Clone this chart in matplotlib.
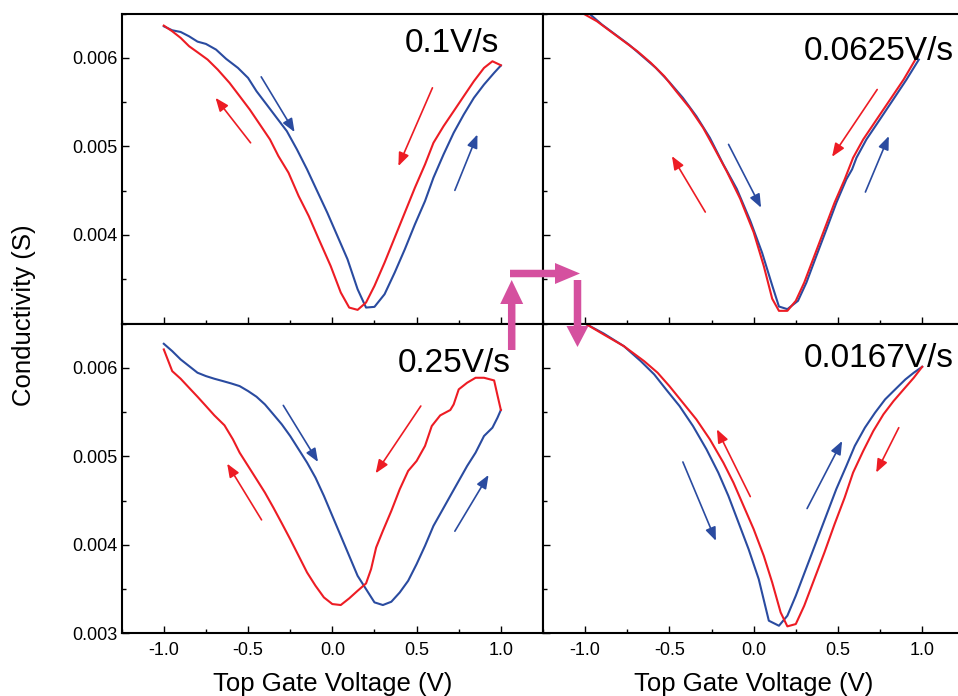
import matplotlib
matplotlib.use('Agg')
import matplotlib.pyplot as plt
from matplotlib.patches import FancyArrow
from matplotlib.ticker import MultipleLocator, FormatStrFormatter

plt.rcParams['font.family'] = ['Liberation Sans', 'DejaVu Sans']
plt.rcParams['axes.unicode_minus'] = False

RED = '#ED1C24'
BLUE = '#2A4BA0'
MAGENTA = '#D5509F'

# --- data (V, S) ---------------------------------------------------------
# 0.1 V/s
tl_fwd_x = [-1.0, -0.95, -0.90, -0.85, -0.80, -0.75, -0.69, -0.63, -0.56, -0.50, -0.45, -0.39,
            -0.33, -0.27, -0.21, -0.15, -0.09, -0.03, 0.03, 0.09, 0.15, 0.20, 0.25, 0.31,
            0.37, 0.43, 0.49, 0.55, 0.60, 0.66, 0.72, 0.78, 0.84, 0.90, 0.96, 1.00]
tl_fwd_y = [6.357e-3, 6.312e-3, 6.293e-3, 6.244e-3, 6.184e-3, 6.158e-3, 6.094e-3, 5.989e-3, 5.887e-3,
            5.774e-3, 5.624e-3, 5.474e-3, 5.323e-3, 5.173e-3, 4.966e-3, 4.741e-3, 4.496e-3, 4.252e-3,
            3.989e-3, 3.726e-3, 3.387e-3, 3.180e-3, 3.188e-3, 3.331e-3, 3.575e-3, 3.838e-3, 4.120e-3,
            4.383e-3, 4.647e-3, 4.910e-3, 5.154e-3, 5.361e-3, 5.549e-3, 5.699e-3, 5.831e-3, 5.914e-3]
tl_bwd_x = [-1.0, -0.95, -0.90, -0.85, -0.80, -0.74, -0.68, -0.61, -0.55, -0.49, -0.43, -0.37,
            -0.32, -0.26, -0.20, -0.14, -0.08, -0.01, 0.05, 0.10, 0.15, 0.20, 0.25, 0.31,
            0.37, 0.43, 0.49, 0.55, 0.60, 0.66, 0.72, 0.78, 0.84, 0.90, 0.95, 1.00]
tl_bwd_y = [6.365e-3, 6.301e-3, 6.226e-3, 6.132e-3, 6.064e-3, 5.981e-3, 5.868e-3, 5.718e-3, 5.568e-3,
            5.417e-3, 5.248e-3, 5.079e-3, 4.891e-3, 4.703e-3, 4.440e-3, 4.214e-3, 3.951e-3, 3.650e-3,
            3.350e-3, 3.180e-3, 3.154e-3, 3.237e-3, 3.425e-3, 3.688e-3, 3.970e-3, 4.252e-3, 4.534e-3,
            4.797e-3, 5.041e-3, 5.229e-3, 5.398e-3, 5.568e-3, 5.737e-3, 5.887e-3, 5.962e-3, 5.917e-3]

# 0.0625 V/s
tr_fwd_x = [-0.98, -0.90, -0.82, -0.74, -0.66, -0.58, -0.50, -0.42, -0.34, -0.26, -0.18, -0.10,
            -0.02, 0.05, 0.11, 0.15, 0.20, 0.263, 0.313, 0.372, 0.432, 0.491, 0.550, 0.584,
            0.610, 0.669, 0.749, 0.828, 0.907, 0.980]
tr_fwd_y = [6.508e-3, 6.376e-3, 6.263e-3, 6.150e-3, 6.019e-3, 5.887e-3, 5.726e-3, 5.549e-3, 5.342e-3,
            5.098e-3, 4.797e-3, 4.520e-3, 4.160e-3, 3.800e-3, 3.430e-3, 3.192e-3, 3.162e-3, 3.256e-3,
            3.462e-3, 3.763e-3, 4.064e-3, 4.365e-3, 4.628e-3, 4.741e-3, 4.872e-3, 5.079e-3, 5.305e-3,
            5.530e-3, 5.756e-3, 5.981e-3]
tr_bwd_x = [-1.0, -0.93, -0.85, -0.77, -0.69, -0.61, -0.53, -0.46, -0.38, -0.30, -0.24, -0.16,
            -0.08, 0.0, 0.06, 0.11, 0.15, 0.20, 0.25, 0.30, 0.36, 0.42, 0.48, 0.54, 0.59, 0.65,
            0.73, 0.81, 0.89, 0.97]
tr_bwd_y = [6.489e-3, 6.414e-3, 6.301e-3, 6.188e-3, 6.075e-3, 5.944e-3, 5.793e-3, 5.624e-3, 5.436e-3,
            5.211e-3, 5.004e-3, 4.720e-3, 4.410e-3, 4.030e-3, 3.650e-3, 3.280e-3, 3.143e-3, 3.143e-3,
            3.256e-3, 3.462e-3, 3.763e-3, 4.064e-3, 4.365e-3, 4.628e-3, 4.872e-3, 5.079e-3, 5.305e-3,
            5.530e-3, 5.756e-3, 6.015e-3]

# 0.25 V/s
bl_fwd_x = [-1.0, -0.95, -0.90, -0.85, -0.80, -0.75, -0.70, -0.65, -0.60, -0.55, -0.50, -0.45,
            -0.40, -0.35, -0.30, -0.25, -0.20, -0.15, -0.10, -0.05, 0.0, 0.05, 0.10, 0.15,
            0.20, 0.25, 0.30, 0.35, 0.40, 0.45, 0.50, 0.55, 0.60, 0.65, 0.70, 0.75, 0.80,
            0.85, 0.90, 0.95, 0.98, 1.0]
bl_fwd_y = [6.271e-3, 6.188e-3, 6.094e-3, 6.019e-3, 5.944e-3, 5.906e-3, 5.876e-3, 5.850e-3, 5.823e-3,
            5.793e-3, 5.737e-3, 5.673e-3, 5.586e-3, 5.474e-3, 5.361e-3, 5.229e-3, 5.079e-3, 4.929e-3,
            4.759e-3, 4.553e-3, 4.327e-3, 4.102e-3, 3.876e-3, 3.650e-3, 3.500e-3, 3.350e-3, 3.320e-3,
            3.357e-3, 3.462e-3, 3.594e-3, 3.782e-3, 3.989e-3, 4.214e-3, 4.383e-3, 4.553e-3, 4.722e-3,
            4.891e-3, 5.041e-3, 5.229e-3, 5.323e-3, 5.436e-3, 5.523e-3]
bl_bwd_x = [-1.0, -0.95, -0.90, -0.85, -0.80, -0.75, -0.70, -0.64, -0.59, -0.55, -0.50, -0.45,
            -0.40, -0.35, -0.30, -0.25, -0.20, -0.15, -0.10, -0.05, 0.0, 0.05, 0.10, 0.15,
            0.20, 0.23, 0.26, 0.30, 0.35, 0.40, 0.45, 0.50, 0.55, 0.59, 0.64, 0.70, 0.72,
            0.75, 0.80, 0.85, 0.90, 0.96, 0.98, 1.0]
bl_bwd_y = [6.207e-3, 5.962e-3, 5.876e-3, 5.774e-3, 5.673e-3, 5.568e-3, 5.462e-3, 5.350e-3, 5.192e-3,
            5.041e-3, 4.891e-3, 4.741e-3, 4.590e-3, 4.421e-3, 4.244e-3, 4.064e-3, 3.876e-3, 3.688e-3,
            3.538e-3, 3.406e-3, 3.331e-3, 3.320e-3, 3.395e-3, 3.481e-3, 3.564e-3, 3.726e-3, 3.970e-3,
            4.158e-3, 4.383e-3, 4.628e-3, 4.835e-3, 4.947e-3, 5.117e-3, 5.342e-3, 5.462e-3, 5.523e-3,
            5.586e-3, 5.756e-3, 5.831e-3, 5.887e-3, 5.887e-3, 5.857e-3, 5.688e-3, 5.523e-3]

# 0.0167 V/s
br_fwd_x = [-1.0, -0.89, -0.77, -0.67, -0.59, -0.52, -0.44, -0.36, -0.28, -0.21, -0.15, -0.09,
            -0.03, 0.03, 0.09, 0.15, 0.20, 0.25, 0.31, 0.37, 0.43, 0.49, 0.55, 0.60, 0.66,
            0.72, 0.78, 0.84, 0.90, 0.95, 1.0]
br_fwd_y = [6.500e-3, 6.387e-3, 6.244e-3, 6.075e-3, 5.925e-3, 5.756e-3, 5.568e-3, 5.342e-3, 5.079e-3,
            4.816e-3, 4.553e-3, 4.252e-3, 3.951e-3, 3.613e-3, 3.143e-3, 3.086e-3, 3.199e-3, 3.425e-3,
            3.726e-3, 4.026e-3, 4.327e-3, 4.628e-3, 4.891e-3, 5.117e-3, 5.323e-3, 5.492e-3, 5.643e-3,
            5.756e-3, 5.868e-3, 5.944e-3, 6.011e-3]
br_bwd_x = [-1.0, -0.89, -0.77, -0.65, -0.57, -0.50, -0.42, -0.34, -0.26, -0.18, -0.12, -0.06,
            0.0, 0.06, 0.11, 0.16, 0.20, 0.25, 0.30, 0.36, 0.42, 0.48, 0.54, 0.59, 0.65,
            0.71, 0.77, 0.83, 0.89, 0.95, 1.0]
br_bwd_y = [6.500e-3, 6.376e-3, 6.244e-3, 6.075e-3, 5.944e-3, 5.793e-3, 5.605e-3, 5.417e-3, 5.192e-3,
            4.929e-3, 4.703e-3, 4.440e-3, 4.177e-3, 3.876e-3, 3.575e-3, 3.237e-3, 3.079e-3, 3.105e-3,
            3.312e-3, 3.613e-3, 3.914e-3, 4.233e-3, 4.534e-3, 4.816e-3, 5.060e-3, 5.286e-3, 5.474e-3,
            5.624e-3, 5.756e-3, 5.887e-3, 6.011e-3]

rate_labels = ['0.1V/s', '0.0625V/s', '0.25V/s', '0.0167V/s']

# sweep-direction arrows: (x0, y0, x1, y1, colour)
tl_arrows = [(-0.422, 5.786e-3, -0.224, 5.162e-3, BLUE), (-0.485, 5.041e-3, -0.693, 5.549e-3, RED),
             (0.594, 5.662e-3, 0.392, 4.778e-3, RED), (0.727, 4.504e-3, 0.861, 5.135e-3, BLUE)]
tr_arrows = [(-0.149, 5.023e-3, 0.044, 4.308e-3, BLUE), (-0.287, 4.259e-3, -0.485, 4.891e-3, RED),
             (0.733, 5.643e-3, 0.465, 4.883e-3, RED), (0.663, 4.485e-3, 0.802, 5.117e-3, BLUE)]
bl_arrows = [(-0.291, 5.575e-3, -0.085, 4.936e-3, BLUE), (-0.420, 4.282e-3, -0.624, 4.917e-3, RED),
             (0.525, 5.568e-3, 0.257, 4.808e-3, RED), (0.727, 4.154e-3, 0.927, 4.789e-3, BLUE)]
br_arrows = [(-0.420, 4.936e-3, -0.224, 4.045e-3, BLUE), (-0.020, 4.545e-3, -0.218, 5.305e-3, RED),
             (0.317, 4.410e-3, 0.525, 5.173e-3, BLUE), (0.861, 5.323e-3, 0.727, 4.816e-3, RED)]


def style_axes(ax, show_x, show_y, yticks):
    ax.set_xlim(-1.25, 1.25)
    ax.set_ylim(0.003, 0.0065)
    ax.set_xticks([-1.0, -0.5, 0.0, 0.5, 1.0])
    ax.xaxis.set_minor_locator(MultipleLocator(0.25))
    ax.set_yticks(yticks)
    ax.yaxis.set_minor_locator(MultipleLocator(0.0005))
    ax.tick_params(which='both', direction='in', width=1.0, labelsize=13)
    ax.tick_params(which='major', length=5)
    ax.tick_params(which='minor', length=3)
    ax.tick_params(axis='x', labelbottom=show_x, pad=6)
    ax.tick_params(axis='y', labelleft=show_y, pad=3)
    ax.xaxis.set_major_formatter(FormatStrFormatter('%.1f'))
    ax.yaxis.set_major_formatter(FormatStrFormatter('%.3f'))
    for side in ['bottom', 'right', 'top', 'left']:
        ax.spines[side].set_linewidth(1.5)


def draw_panel(ax, fx, fy, bx, by, arrows, label, lab_pos):
    ax.plot(fx, fy, color=BLUE, lw=1.5)
    ax.plot(bx, by, color=RED, lw=1.5)
    for x0, y0, x1, y1, c in arrows:
        ax.annotate('', xy=(x1, y1), xytext=(x0, y0),
                    arrowprops=dict(arrowstyle='-|>,head_length=0.8,head_width=0.32',
                                    color=c, lw=1.2, shrinkA=0, shrinkB=0, mutation_scale=10))
    ax.text(lab_pos[0], lab_pos[1], label, transform=ax.transAxes,
            fontsize=24, ha='left', va='baseline')


fig = plt.figure(figsize=(9.58, 6.96), dpi=100)

w, h = 0.4398, 0.4452
ax_tl = fig.add_axes([0.1270, 0.5352, w, h])
ax_tr = fig.add_axes([0.5668, 0.5352, w, h])
ax_bl = fig.add_axes([0.1270, 0.0900, w, h])
ax_br = fig.add_axes([0.5668, 0.0900, w, h])

style_axes(ax_tl, False, True, [0.004, 0.005, 0.006])
style_axes(ax_tr, False, False, [0.004, 0.005, 0.006])
style_axes(ax_bl, True, True, [0.003, 0.004, 0.005, 0.006])
style_axes(ax_br, True, False, [0.003, 0.004, 0.005, 0.006])

draw_panel(ax_tl, tl_fwd_x, tl_fwd_y, tl_bwd_x, tl_bwd_y, tl_arrows, rate_labels[0], (0.672, 0.877))
draw_panel(ax_tr, tr_fwd_x, tr_fwd_y, tr_bwd_x, tr_bwd_y, tr_arrows, rate_labels[1], (0.618, 0.851))
draw_panel(ax_bl, bl_fwd_x, bl_fwd_y, bl_bwd_x, bl_bwd_y, bl_arrows, rate_labels[2], (0.656, 0.842))
draw_panel(ax_br, br_fwd_x, br_fwd_y, br_bwd_x, br_bwd_y, br_arrows, rate_labels[3], (0.618, 0.861))

fig.text(332.5 / 958, 0.0072, 'Top Gate Voltage (V)', fontsize=18.5, ha='center', va='baseline')
fig.text(754 / 958, 0.0072, 'Top Gate Voltage (V)', fontsize=18.5, ha='center', va='baseline')
fig.text(24 / 958, 1 - 315 / 696, 'Conductivity (S)', fontsize=18.5, rotation=90,
         ha='center', va='center')

# magenta "sweep order" arrows between the panels (inches from bottom-left)
big = dict(color=MAGENTA, length_includes_head=True, transform=fig.dpi_scale_trans, lw=0)
fig.add_artist(FancyArrow(5.117, 3.46, 0, 0.70, width=0.075, head_width=0.23, head_length=0.24, **big))
fig.add_artist(FancyArrow(5.10, 4.225, 0.70, 0, width=0.075, head_width=0.21, head_length=0.25, **big))
fig.add_artist(FancyArrow(5.775, 4.16, 0, -0.67, width=0.075, head_width=0.22, head_length=0.21, **big))

fig.savefig('out.png', dpi=100)
